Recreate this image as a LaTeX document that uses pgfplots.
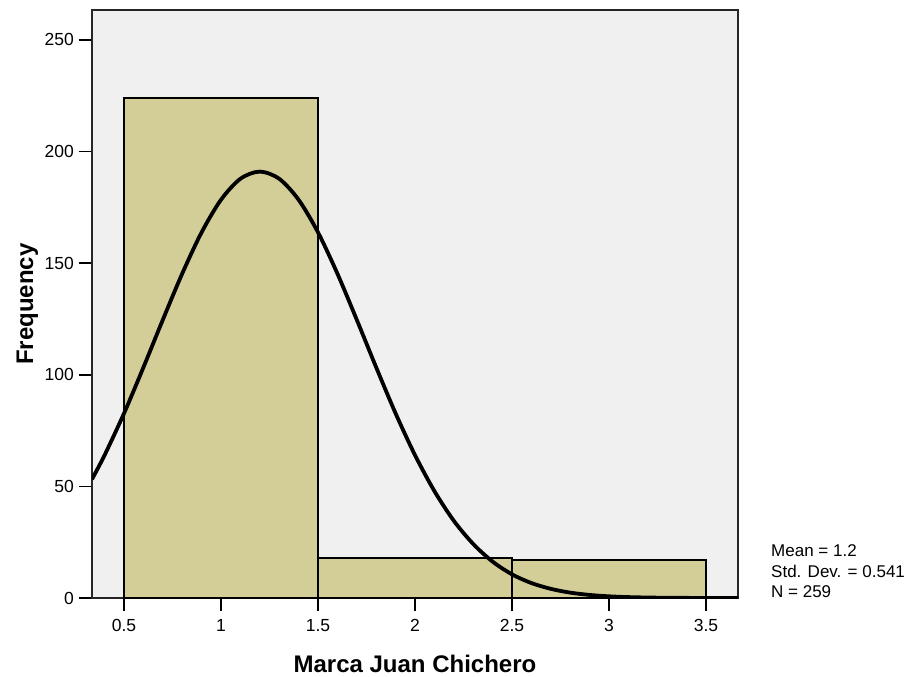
\documentclass[border=0pt]{standalone}
\usepackage{pgfplots}
\pgfplotsset{compat=1.18}
\usepackage{fontspec}
\setmainfont{Liberation Sans}
\definecolor{barfill}{HTML}{D3CE98}
\definecolor{bgfill}{HTML}{F0F0F0}
\begin{document}
\begin{tikzpicture}
\path[use as bounding box] (-92bp,-79bp) rectangle (813bp,598bp);
\begin{axis}[
  scale only axis,
  width=646bp, height=588bp,
  xmin=0.335, xmax=3.665,
  ymin=0, ymax=263.4,
  axis background/.style={fill=bgfill},
  axis line style={line width=1.5bp, draw=black!85},
  xtick={0.5,1,1.5,2,2.5,3,3.5},
  xticklabels={0.5,1,1.5,2,2.5,3,3.5},
  ytick={0,50,100,150,200,250},
  xtick pos=left, ytick pos=left,
  tick align=outside,
  major tick length=13bp,
  tick style={line width=1.5bp, black},
  /pgf/number format/assume math mode=true,
  tick label style={font=\fontsize{17.5bp}{20bp}\selectfont},
  xticklabel style={inner sep=0pt, yshift=-8bp},
  yticklabel style={inner sep=0pt, xshift=-5bp},
  xlabel={Marca Juan Chichero},
  ylabel={Frequency},
  label style={font=\fontsize{24bp}{28bp}\selectfont\bfseries},
  xlabel style={at={(axis description cs:0.5,0)}, anchor=base, yshift=-74bp},
  ylabel style={at={(axis description cs:-0.0913,0.5)}, anchor=base, rotate=0},
  clip=true,
]
\addplot[ybar interval, fill=barfill, draw=black, line width=1.8bp]
  coordinates {(0.5,224) (1.5,18) (2.5,17) (3.5,17)};
\addplot[smooth, line width=3.8bp, black] coordinates {
(0.335,53.2) (0.4,64.0) (0.5,82.7) (0.6,103.3) (0.7,124.6) (0.8,145.3)
(0.9,163.8) (1.0,178.4) (1.1,187.8) (1.2,191.0) (1.3,187.8) (1.4,178.4)
(1.5,163.8) (1.6,145.3) (1.7,124.6) (1.8,103.3) (1.9,82.7) (2.0,64.0)
(2.1,47.9) (2.2,34.6) (2.3,24.2) (2.4,16.3) (2.5,10.6) (2.6,6.7)
(2.7,4.1) (2.8,2.4) (2.9,1.37) (3.0,0.75) (3.1,0.40) (3.2,0.21)
(3.3,0.10) (3.4,0.05) (3.5,0.02) (3.665,0.01)
};
\end{axis}
\begin{scope}[every node/.style={anchor=base west, inner sep=0pt, font=\fontsize{17bp}{20bp}\selectfont}]
\node at (679bp,41bp) {Mean = 1.2};
\node at (679bp,21bp) {Std. Dev. = 0.541};
\node at (679bp,1bp) {N = 259};
\end{scope}
\end{tikzpicture}
\end{document}
